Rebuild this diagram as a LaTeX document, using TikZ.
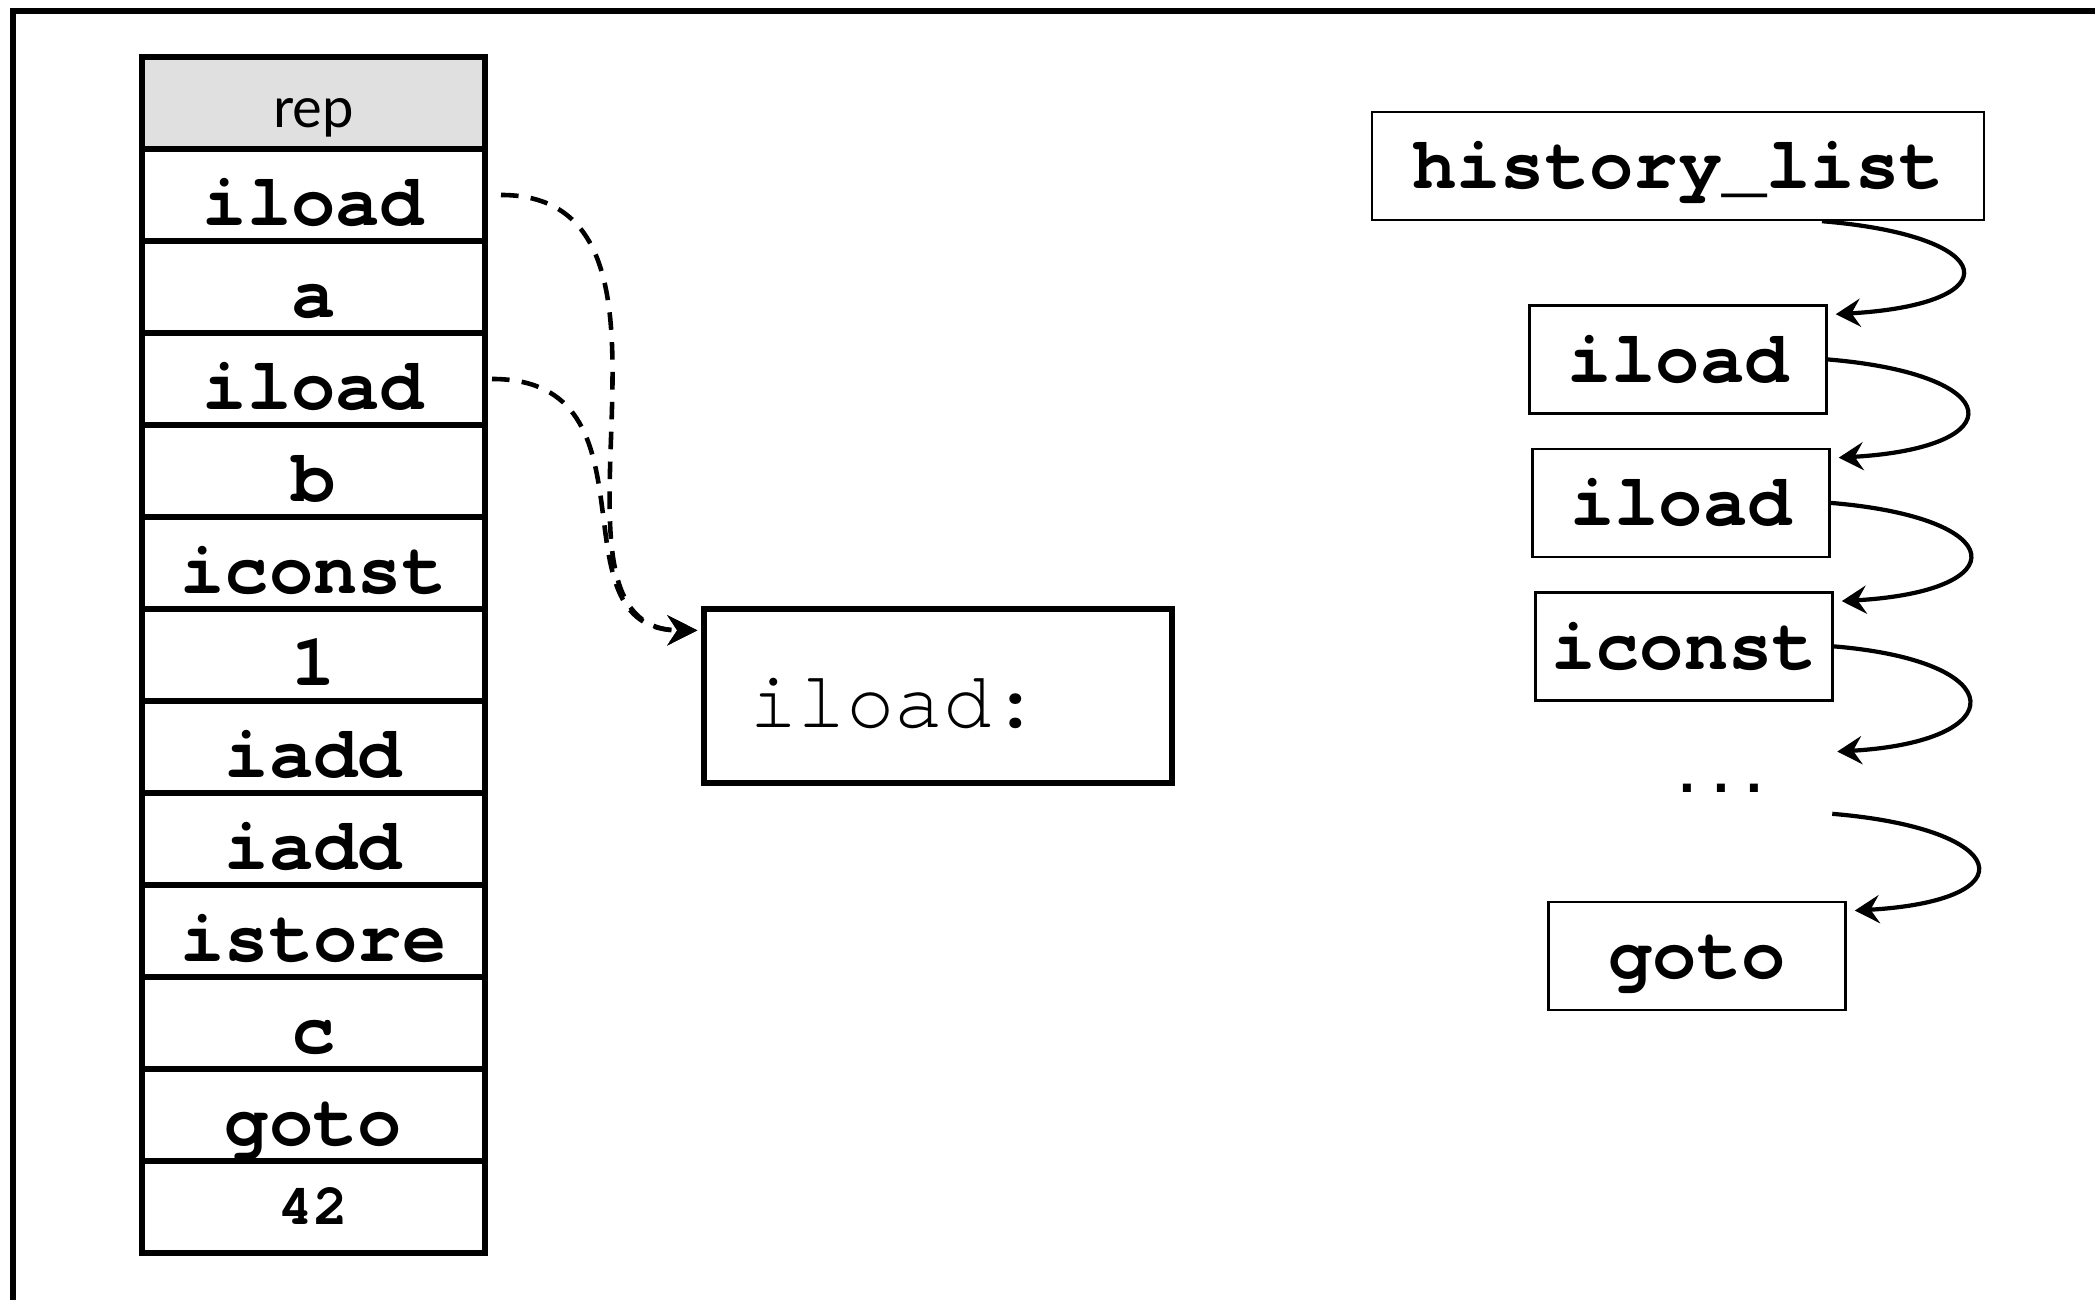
\documentclass[tikz,border=0pt]{standalone}
\usepackage{fontspec}
\setsansfont{Lato}
\setmonofont{TeX Gyre Cursor}
\newfontfamily\gapfont{Liberation Mono}
\usetikzlibrary{arrows.meta,positioning}
\newcommand{\opfont}{\ttfamily\bfseries\fontsize{21}{25}\selectfont}

\begin{document}
\begin{tikzpicture}[
  cell/.style={draw, line width=1.6pt, minimum width=3.43cm, minimum height=0.92cm, inner sep=0pt, outer sep=0pt, font=\opfont, text height=18pt, text depth=0.5pt},
  slot/.style={draw, line width=0.7pt, minimum width=2.97cm, minimum height=1.08cm, inner sep=0pt, font=\opfont, text height=13.5pt, text depth=0.5pt},
  link/.style={-{Stealth[length=7pt,width=8pt,inset=2.5pt]}, line width=1.2pt},
  ref/.style={-{Stealth[length=8.5pt,width=8.5pt]}, line width=1.3pt, dash pattern=on 5pt off 3.5pt},
  node distance=0pt
]
\useasboundingbox (0,0) rectangle (20.95,13);
\draw[line width=1.5pt] (0.13,0) |- (20.95,12.89);

% bytecode array
\node[cell, fill=black!12, font=\sffamily\fontsize{16}{19}\selectfont, text height=14pt, text depth=0pt] (rep) at (3.135,11.97) {rep};
\node[cell, below=of rep] (ld1) {iload};
\node[cell, below=of ld1] (va) {a};
\node[cell, below=of va] (ld2) {iload};
\node[cell, below=of ld2] (vb) {b};
\node[cell, below=of vb] (ic) {iconst};
\node[cell, below=of ic] (one) {1};
\node[cell, below=of one] (add1) {iadd};
\node[cell, below=of add1] (add2) {iadd};
\node[cell, below=of add2] (st) {istore};
\node[cell, below=of st] (vc) {c};
\node[cell, below=of vc] (jmp) {goto};
\node[cell, below=of jmp, font=\ttfamily\bfseries\fontsize{16.5}{20}\selectfont, text height=10pt, text depth=0pt] (tgt) {42};

% handler
\node[draw, line width=1.5pt, minimum width=4.68cm, minimum height=1.74cm, inner xsep=0.45cm, inner ysep=0pt, text width=3.78cm, align=left, font=\ttfamily\fontsize{23}{27}\selectfont, text height=18.5pt, text depth=0.3pt] (impl) at (9.38,6.04) {iload:};

\draw[ref] ([xshift=0.16cm]ld1.east) .. controls +(2.2,0) and +(-1.8,0) .. ([xshift=-0.04cm,yshift=-0.24cm]impl.north west);
\draw[ref] ([xshift=0.07cm]ld2.east) .. controls +(1.75,0) and +(-1.5,0) .. ([xshift=-0.04cm,yshift=-0.24cm]impl.north west);

% recorded trace
\node[slot, minimum width=6.12cm] (hist) at (16.78,11.34) {history\_list};
\node[slot, below=0.83cm of hist] (hl1) {iload};
\node[slot, below=0.33cm of hl1, xshift=0.03cm] (hl2) {iload};
\node[slot, below=0.33cm of hl2, xshift=0.03cm] (hic) {iconst};
\node[slot, draw=none, minimum width=2.2cm, below=0.35cm of hic, xshift=0.37cm, font=\gapfont\bfseries\fontsize{16}{19}\selectfont, text height=0.5pt, text depth=0pt] (dots) {...};
\node[slot, below=1.99cm of hic, xshift=0.13cm] (hgoto) {goto};

\draw[link] ([xshift=1.44cm]hist.south) .. controls +(1.8,-0.15) and +(1.75,0.1) .. ([xshift=0.08cm,yshift=-0.1cm]hl1.north east);
\draw[link] (hl1.east) .. controls +(1.8,-0.15) and +(1.75,0.1) .. ([xshift=0.08cm,yshift=-0.1cm]hl2.north east);
\draw[link] (hl2.east) .. controls +(1.8,-0.15) and +(1.75,0.1) .. ([xshift=0.08cm,yshift=-0.1cm]hic.north east);
\draw[link] (hic.east) .. controls +(1.8,-0.15) and +(1.75,0.1) .. ([xshift=0.05cm,yshift=-0.15cm]dots.north east);
\draw[link] ([yshift=-0.22cm]dots.east) .. controls +(1.8,-0.15) and +(1.75,0.1) .. ([xshift=0.08cm,yshift=-0.1cm]hgoto.north east);
\end{tikzpicture}
\end{document}
